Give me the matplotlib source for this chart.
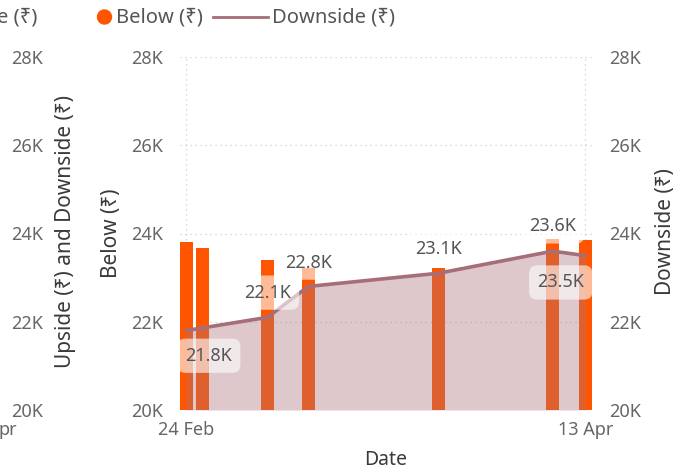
import matplotlib
matplotlib.use("Agg")
import matplotlib.pyplot as plt
import matplotlib.dates as mdates
from datetime import datetime

plt.rcParams['font.family'] = ['Noto Sans', 'DejaVu Sans']

# ---- data ----
bar_dates = ['2024-02-24', '2024-02-26', '2024-03-05', '2024-03-10',
             '2024-03-26', '2024-04-09', '2024-04-13']
below_vals = [23800, 23680, 23400, 23220, 23220, 23880, 23850]
line_dates = ['2024-02-24', '2024-03-05', '2024-03-10', '2024-03-26',
              '2024-04-09', '2024-04-13']
downside_vals = [21800, 22100, 22800, 23100, 23600, 23500]
downside_labels = ['21.8K', '22.1K', '22.8K', '23.1K', '23.6K', '23.5K']
yticks = [20000, 22000, 24000, 26000, 28000]
ytick_labels = ['20K', '22K', '24K', '26K', '28K']
xtick_dates = ['2024-02-24', '2024-04-13']
xtick_labels = ['24 Feb', '13 Apr']

# label placement offsets (days, value units)
label_dx = [2.8, 0.0, 0.0, 0.0, 0.0, -3.0]
label_dy = [-570, 560, 540, 540, 560, -610]

BAR = '#FF5500'
AREA = '#AA727B'
LINE = '#A56E78'
TICK = '#666666'
TITLE = '#3A3A3A'

W, H = 679, 472
fig = plt.figure(figsize=(W / 100, H / 100), dpi=100)

def fx(px):
    return px / W

def fy(py):
    return 1 - py / H

left_px, right_px, top_px, bot_px = 180, 595, 57, 410
ax = fig.add_axes([fx(left_px), fy(bot_px), fx(right_px - left_px), (bot_px - top_px) / H])

bx = mdates.date2num([datetime.strptime(d, '%Y-%m-%d') for d in bar_dates])
lx = mdates.date2num([datetime.strptime(d, '%Y-%m-%d') for d in line_dates])
tx = mdates.date2num([datetime.strptime(d, '%Y-%m-%d') for d in xtick_dates])

x0 = tx[0]
ax.set_xlim(x0 - 0.74, x0 + 50.2)
ax.set_ylim(20000, 28000)

# grid
for y in yticks[1:]:
    ax.axhline(y, color='#C9CEDF', lw=0.9, ls=(0, (1, 3)), zorder=0)
for x in tx:
    ax.axvline(x, color='#C9CEDF', lw=0.9, ls=(0, (1, 3)), zorder=0)

ax.bar(bx, below_vals, width=1.6, color=BAR, zorder=2)

ax2 = ax.twinx()
ax2.set_ylim(20000, 28000)
ax2.set_xlim(ax.get_xlim())
ax2.fill_between(lx, downside_vals, 20000, color=AREA, alpha=0.39, lw=0, zorder=1)
ax2.plot(lx, downside_vals, color=LINE, lw=2.6, solid_capstyle='round', zorder=3)

for x, v, lab, dx, dy in zip(lx, downside_vals, downside_labels, label_dx, label_dy):
    ax2.annotate(lab, (x + dx, v + dy), ha='center', va='center', fontsize=13, color='#555555',
                 bbox=dict(boxstyle='round,pad=0.45', fc='white', ec='none', alpha=0.6),
                 zorder=5, annotation_clip=False)

for a in (ax, ax2):
    for s in a.spines.values():
        s.set_visible(False)

ax.set_yticks(yticks)
ax.set_yticklabels(ytick_labels)
ax.tick_params(axis='y', length=0, pad=12, labelsize=13, labelcolor=TICK)
ax2.set_yticks(yticks)
ax2.set_yticklabels(ytick_labels)
ax2.tick_params(axis='y', length=0, pad=10, labelsize=13, labelcolor=TICK)
ax.set_xticks(tx)
ax.set_xticklabels(xtick_labels)
ax.tick_params(axis='x', length=0, pad=8, labelsize=13, labelcolor=TICK)

# outer left axis
ax3 = ax.twinx()
ax3.set_ylim(20000, 28000)
ax3.yaxis.tick_left()
ax3.spines['left'].set_position(('outward', 86.4))
for s in ax3.spines.values():
    s.set_visible(False)
ax3.set_yticks(yticks)
ax3.set_yticklabels(ytick_labels)
ax3.tick_params(axis='y', length=0, pad=12, labelsize=13, labelcolor=TICK,
                right=False, labelright=False, left=True, labelleft=True)

# axis titles
fig.text(fx(66), fy(232), 'Upside (₹) and Downside (₹)', rotation=90, ha='center', va='center',
         fontsize=15, color=TITLE, fontweight='semibold')
fig.text(fx(111), fy(233), 'Below (₹)', rotation=90, ha='center', va='center',
         fontsize=15, color=TITLE, fontweight='semibold')
fig.text(fx(665), fy(232), 'Downside (₹)', rotation=90, ha='center', va='center',
         fontsize=15, color=TITLE, fontweight='semibold')
fig.text(fx(386), fy(460), 'Date', ha='center', va='center', fontsize=14,
         color=TITLE, fontweight='semibold')
fig.text(fx(-2), fy(430), 'pr', ha='left', va='center', fontsize=13, color=TICK)

# legend
fig.text(fx(-3), fy(17), 'e (₹)', ha='left', va='center', fontsize=14.5, color='#555555')
fig.patches.append(matplotlib.patches.Ellipse((fx(104.5), fy(17)), 14 / W, 14 / H,
                                              transform=fig.transFigure, color=BAR))
fig.text(fx(116), fy(17), 'Below (₹)', ha='left', va='center', fontsize=14.5, color='#555555')
fig.lines.append(matplotlib.lines.Line2D([fx(213), fx(268)], [fy(17), fy(17)],
                                         transform=fig.transFigure, color=LINE, lw=2))
fig.text(fx(272), fy(17), 'Downside (₹)', ha='left', va='center', fontsize=14.5, color='#555555')

fig.savefig('out.png', dpi=100)
